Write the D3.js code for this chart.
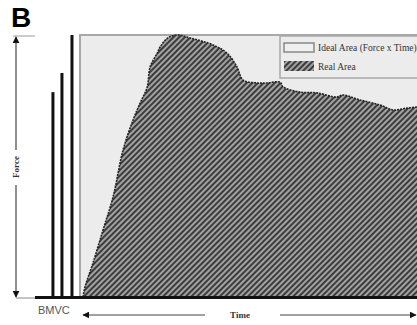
<!DOCTYPE html>
<html>
<head>
<meta charset="utf-8">
<script src="https://cdn.jsdelivr.net/npm/d3@7"></script>
<style>
  body { margin: 0; background: #fff; }
  svg { display: block; }
</style>
</head>
<body>
<script>
// data (time in ms, force in % of peak)
var curveTime  = [0, 6, 30, 60, 90, 120, 150, 171, 192, 201, 222, 231, 254, 281, 320, 389, 431, 461, 479, 521, 551, 590, 599, 650, 701, 760, 778, 829, 889, 928, 970, 1000];
var curveForce = [0, 3.8, 13, 25.6, 38.2, 56.1, 67.6, 74, 80, 87.8, 93, 95.4, 98.9, 100, 98.9, 96.2, 93.1, 87.8, 82.8, 81.7, 81.7, 82, 80.2, 78.2, 77.9, 76.3, 77.1, 75.2, 73.3, 71.4, 72.1, 72.5];
var bmvcTime  = [-90, -63, -33];
var bmvcForce = [78.2, 85.5, 100];
var legendLabels = ["Ideal Area (Force x Time)", "Real Area"];

var width = 417;
var height = 325;

var x = d3.scaleLinear().domain([0, 1000]).range([83, 417]);
var y = d3.scaleLinear().domain([0, 100]).range([297, 35]);

var svg = d3.select("body").append("svg")
    .attr("width", width)
    .attr("height", height);

// hatch pattern
var defs = svg.append("defs");
var hatch = defs.append("pattern")
    .attr("id", "hatch")
    .attr("patternUnits", "userSpaceOnUse")
    .attr("width", 4)
    .attr("height", 4)
    .attr("patternTransform", "rotate(45)");
hatch.append("rect")
    .attr("width", 4).attr("height", 4)
    .attr("fill", "#a2a2a2");
hatch.append("rect")
    .attr("width", 2).attr("height", 4)
    .attr("fill", "#3c3c3c");

// panel letter
svg.append("text")
    .attr("x", 11)
    .attr("y", 27)
    .style("font-family", "'Liberation Sans', Arial, sans-serif")
    .style("font-weight", "bold")
    .style("font-size", "28px")
    .text("B");

// plot background
svg.append("rect")
    .attr("x", x(-9))
    .attr("y", y(100))
    .attr("width", width - x(-9) + 5)
    .attr("height", y(0) - y(100))
    .attr("fill", "#ececec")
    .attr("stroke", "#a8a8a8")
    .attr("stroke-width", 2);

// real area
var pts = curveTime.map(function(t, i) { return [t, curveForce[i]]; });

var area = d3.area()
    .x(function(d) { return x(d[0]); })
    .y0(y(0))
    .y1(function(d) { return y(d[1]); })
    .curve(d3.curveCatmullRom);

var line = d3.line()
    .x(function(d) { return x(d[0]); })
    .y(function(d) { return y(d[1]); })
    .curve(d3.curveCatmullRom);

svg.append("path")
    .datum(pts)
    .attr("d", area)
    .attr("fill", "url(#hatch)");

svg.append("path")
    .datum(pts)
    .attr("d", line)
    .attr("fill", "none")
    .attr("stroke", "#222")
    .attr("stroke-width", 1.6)
    .attr("stroke-dasharray", "2,1");

// BMVC bars
svg.selectAll(".bar")
    .data(bmvcTime)
    .enter()
    .append("line")
    .attr("class", "bar")
    .attr("x1", function(d) { return x(d); })
    .attr("x2", function(d) { return x(d); })
    .attr("y1", y(0))
    .attr("y2", function(d, i) { return y(bmvcForce[i]); })
    .attr("stroke", "#111")
    .attr("stroke-width", 3);

// baseline
svg.append("line")
    .attr("x1", 16).attr("x2", 35)
    .attr("y1", 298).attr("y2", 298)
    .attr("stroke", "#888")
    .attr("stroke-width", 1);
svg.append("line")
    .attr("x1", 35).attr("x2", width)
    .attr("y1", 297.5).attr("y2", 297.5)
    .attr("stroke", "#111")
    .attr("stroke-width", 3);

// legend
var legend = svg.append("g").attr("transform", "translate(280,36)");
legend.append("rect")
    .attr("width", 150).attr("height", 42)
    .attr("fill", "#ececec")
    .attr("stroke", "#a8a8a8")
    .attr("stroke-width", 1.5);
legend.append("rect")
    .attr("x", 4).attr("y", 7)
    .attr("width", 30).attr("height", 9)
    .attr("fill", "#efefef")
    .attr("stroke", "#888")
    .attr("stroke-width", 1.5);
legend.append("rect")
    .attr("x", 4).attr("y", 25)
    .attr("width", 30).attr("height", 10)
    .attr("fill", "url(#hatch)");
legend.selectAll(".lt")
    .data(legendLabels)
    .enter()
    .append("text")
    .attr("class", "lt")
    .attr("x", 38)
    .attr("y", function(d, i) { return 15 + i * 19; })
    .style("font-family", "'Liberation Serif', 'Times New Roman', serif")
    .style("font-size", "9.5px")
    .style("fill", "#333")
    .text(function(d) { return d; });

// force axis
var arrow = defs.append("marker")
    .attr("id", "arrow")
    .attr("viewBox", "0 0 10 10")
    .attr("refX", 9).attr("refY", 5)
    .attr("markerWidth", 7).attr("markerHeight", 7)
    .attr("markerUnits", "userSpaceOnUse")
    .attr("orient", "auto-start-reverse");
arrow.append("path")
    .attr("d", "M0,0 L10,5 L0,10 z")
    .attr("fill", "#111");

svg.append("line")
    .attr("x1", 13).attr("x2", 35)
    .attr("y1", 36).attr("y2", 36)
    .attr("stroke", "#999");
svg.append("line")
    .attr("x1", 16).attr("x2", 16)
    .attr("y1", 150).attr("y2", 37)
    .attr("stroke", "#444")
    .attr("stroke-width", 1.2)
    .attr("marker-end", "url(#arrow)");
svg.append("line")
    .attr("x1", 16).attr("x2", 16)
    .attr("y1", 185).attr("y2", 297)
    .attr("stroke", "#444")
    .attr("stroke-width", 1.2)
    .attr("marker-end", "url(#arrow)");
svg.append("text")
    .attr("transform", "translate(19,167) rotate(-90)")
    .attr("text-anchor", "middle")
    .style("font-family", "'Liberation Serif', 'Times New Roman', serif")
    .style("font-weight", "bold")
    .style("font-size", "9px")
    .style("fill", "#333")
    .text("Force");

// time axis
svg.append("line")
    .attr("x1", 205).attr("x2", 83)
    .attr("y1", 315).attr("y2", 315)
    .attr("stroke", "#444")
    .attr("stroke-width", 1.2)
    .attr("marker-end", "url(#arrow)");
svg.append("line")
    .attr("x1", 280).attr("x2", 416)
    .attr("y1", 315).attr("y2", 315)
    .attr("stroke", "#444")
    .attr("stroke-width", 1.2)
    .attr("marker-end", "url(#arrow)");
svg.append("text")
    .attr("x", 240).attr("y", 318)
    .attr("text-anchor", "middle")
    .style("font-family", "'Liberation Serif', 'Times New Roman', serif")
    .style("font-weight", "bold")
    .style("font-size", "9px")
    .style("fill", "#333")
    .text("Time");

svg.append("text")
    .attr("x", 38).attr("y", 314)
    .style("font-family", "'Liberation Sans', Arial, sans-serif")
    .style("font-size", "11px")
    .style("fill", "#555")
    .text("BMVC");
</script>
</body>
</html>
